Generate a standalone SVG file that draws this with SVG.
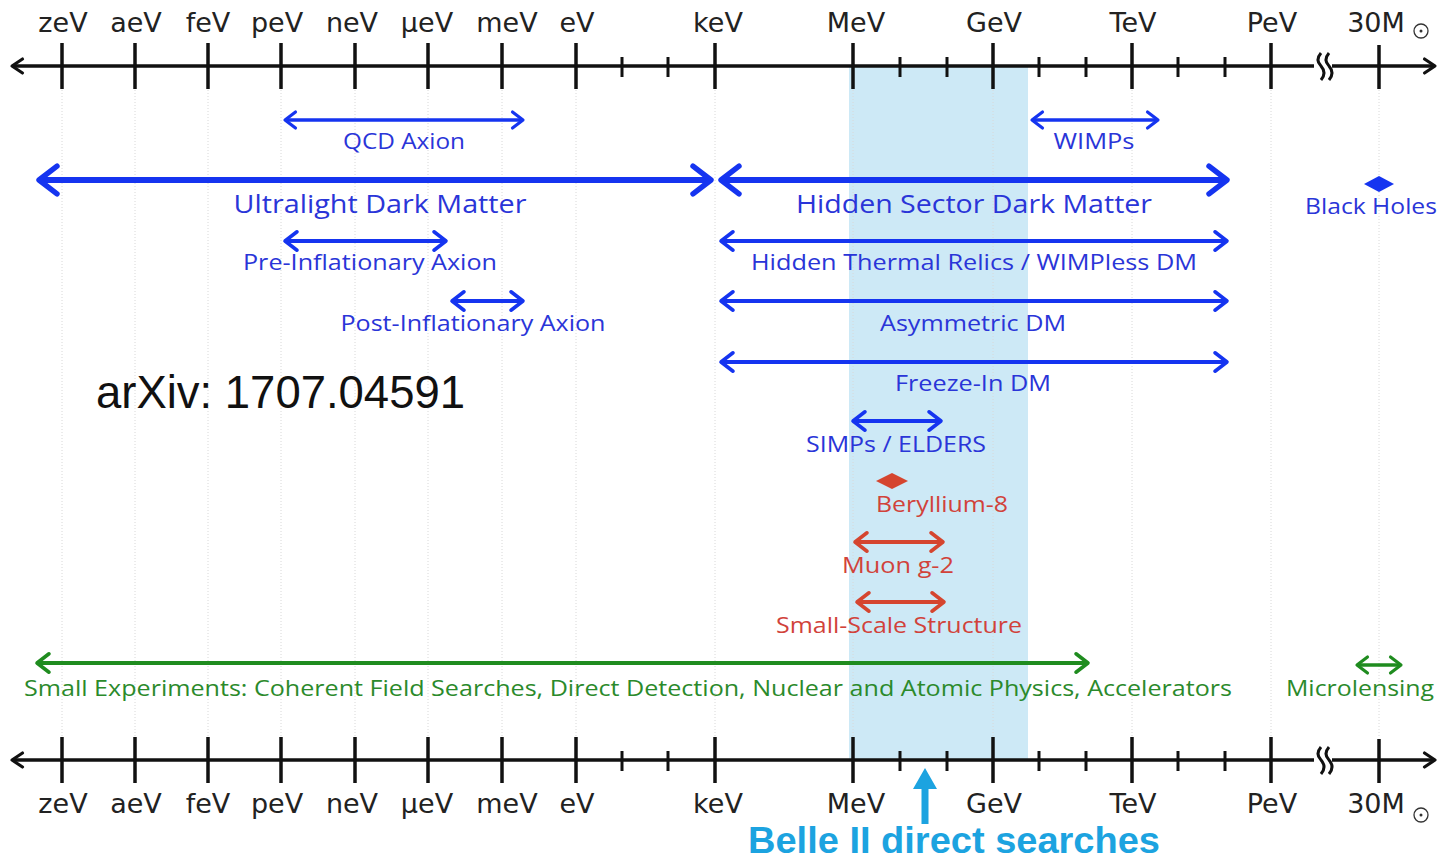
<svg xmlns="http://www.w3.org/2000/svg" width="1439" height="861" viewBox="0 0 1439 861">
<style>
.ax{stroke:#111;stroke-width:3.5;fill:none}
.tk{stroke:#111;stroke-width:3.5}
.tm{stroke:#111;stroke-width:3}
.grid{stroke:#d8d8d8;stroke-width:1;stroke-dasharray:1 2}
.axl{font-family:"DejaVu Sans",sans-serif;font-size:27px;fill:#222;text-anchor:middle}
.lb{font-family:"Open Sans","Noto Sans",sans-serif;fill:#2a35d8;text-anchor:middle}
.lr{font-family:"Open Sans","Noto Sans",sans-serif;fill:#d1423a;text-anchor:middle}
.lg{font-family:"Open Sans","Noto Sans",sans-serif;fill:#2b8a2b}
.ab{stroke:#1534f0;fill:none;marker-start:url(#mb);marker-end:url(#mb)}
.ar{stroke:#d5452f;fill:none;marker-start:url(#mr);marker-end:url(#mr)}
.ag{stroke:#1f8c1f;fill:none;marker-start:url(#mg);marker-end:url(#mg)}
</style>
<defs>
<marker id="mb" viewBox="-4 -3 5 6" refX="0" refY="0" markerWidth="5" markerHeight="6" orient="auto-start-reverse" overflow="visible"><path d="M-3,-2.3 L0,0 L-3,2.3" fill="none" stroke="#1534f0" stroke-width="0.9" stroke-linecap="round" stroke-linejoin="round"/></marker>
<marker id="mr" viewBox="-4 -3 5 6" refX="0" refY="0" markerWidth="5" markerHeight="6" orient="auto-start-reverse" overflow="visible"><path d="M-3,-2.3 L0,0 L-3,2.3" fill="none" stroke="#d5452f" stroke-width="0.9" stroke-linecap="round" stroke-linejoin="round"/></marker>
<marker id="mg" viewBox="-4 -3 5 6" refX="0" refY="0" markerWidth="5" markerHeight="6" orient="auto-start-reverse" overflow="visible"><path d="M-3,-2.3 L0,0 L-3,2.3" fill="none" stroke="#1f8c1f" stroke-width="0.9" stroke-linecap="round" stroke-linejoin="round"/></marker>
<marker id="mk" viewBox="-4 -3 5 6" refX="0" refY="0" markerWidth="5" markerHeight="6" orient="auto-start-reverse" overflow="visible"><path d="M-3,-2 L0,0 L-3,2" fill="none" stroke="#111" stroke-width="0.9" stroke-linecap="round" stroke-linejoin="round"/></marker>
</defs>
<rect width="1439" height="861" fill="#fff"/>
<rect id="belle-band" x="849" y="66" width="179" height="694" fill="#cde9f6"/>
<g id="grid">
<line class="grid" x1="62" y1="90" x2="62" y2="736"/>
<line class="grid" x1="135" y1="90" x2="135" y2="736"/>
<line class="grid" x1="208" y1="90" x2="208" y2="736"/>
<line class="grid" x1="281" y1="90" x2="281" y2="736"/>
<line class="grid" x1="355" y1="90" x2="355" y2="736"/>
<line class="grid" x1="428" y1="90" x2="428" y2="736"/>
<line class="grid" x1="502" y1="90" x2="502" y2="736"/>
<line class="grid" x1="576" y1="90" x2="576" y2="736"/>
<line class="grid" x1="715" y1="90" x2="715" y2="736"/>
<line class="grid" x1="853" y1="90" x2="853" y2="736"/>
<line class="grid" x1="993" y1="90" x2="993" y2="736"/>
<line class="grid" x1="1132" y1="90" x2="1132" y2="736"/>
<line class="grid" x1="1271" y1="90" x2="1271" y2="736"/>
<line class="grid" x1="1379" y1="90" x2="1379" y2="736"/>
</g>
<g id="axis-top">
<line class="ax" x1="12" y1="66" x2="1435" y2="66" marker-start="url(#mk)" marker-end="url(#mk)"/>
<g class="tk">
<line x1="62" y1="43" x2="62" y2="89"/><line x1="135" y1="43" x2="135" y2="89"/><line x1="208" y1="43" x2="208" y2="89"/><line x1="281" y1="43" x2="281" y2="89"/><line x1="355" y1="43" x2="355" y2="89"/><line x1="428" y1="43" x2="428" y2="89"/><line x1="502" y1="43" x2="502" y2="89"/><line x1="576" y1="43" x2="576" y2="89"/><line x1="715" y1="43" x2="715" y2="89"/><line x1="853" y1="43" x2="853" y2="89"/><line x1="993" y1="43" x2="993" y2="89"/><line x1="1132" y1="43" x2="1132" y2="89"/><line x1="1271" y1="43" x2="1271" y2="89"/><line x1="1379" y1="45" x2="1379" y2="89"/>
</g>
<g class="tm">
<line x1="622" y1="57" x2="622" y2="77"/><line x1="668" y1="57" x2="668" y2="77"/><line x1="900" y1="57" x2="900" y2="77"/><line x1="947" y1="57" x2="947" y2="77"/><line x1="1039" y1="57" x2="1039" y2="77"/><line x1="1086" y1="57" x2="1086" y2="77"/><line x1="1178" y1="57" x2="1178" y2="77"/><line x1="1225" y1="57" x2="1225" y2="77"/>
</g>
<rect x="1314" y="58" width="18" height="16" fill="#fff"/>
<path d="M1321,53 q-6,7 0,13 q6,7 0,14 M1329,53 q-6,7 0,13 q6,7 0,14" stroke="#111" stroke-width="3" fill="none"/>
<text class="axl" x="63" y="32">zeV</text>
<text class="axl" x="136" y="32">aeV</text>
<text class="axl" x="208" y="32">feV</text>
<text class="axl" x="277" y="32">peV</text>
<text class="axl" x="352" y="32">neV</text>
<text class="axl" x="427" y="32">μeV</text>
<text class="axl" x="507" y="32">meV</text>
<text class="axl" x="577" y="32">eV</text>
<text class="axl" x="718" y="32">keV</text>
<text class="axl" x="856" y="32">MeV</text>
<text class="axl" x="994" y="32">GeV</text>
<text class="axl" x="1133" y="32">TeV</text>
<text class="axl" x="1272" y="32">PeV</text>
<text class="axl" x="1376" y="32">30M</text>
<circle cx="1421" cy="31" r="7" fill="none" stroke="#333" stroke-width="1.3"/><circle cx="1421" cy="31" r="1.5" fill="#333"/>
</g>
<g id="axis-bottom">
<line class="ax" x1="12" y1="760" x2="1435" y2="760" marker-start="url(#mk)" marker-end="url(#mk)"/>
<g class="tk">
<line x1="62" y1="737" x2="62" y2="783"/><line x1="135" y1="737" x2="135" y2="783"/><line x1="208" y1="737" x2="208" y2="783"/><line x1="281" y1="737" x2="281" y2="783"/><line x1="355" y1="737" x2="355" y2="783"/><line x1="428" y1="737" x2="428" y2="783"/><line x1="502" y1="737" x2="502" y2="783"/><line x1="576" y1="737" x2="576" y2="783"/><line x1="715" y1="737" x2="715" y2="783"/><line x1="853" y1="737" x2="853" y2="783"/><line x1="993" y1="737" x2="993" y2="783"/><line x1="1132" y1="737" x2="1132" y2="783"/><line x1="1271" y1="737" x2="1271" y2="783"/><line x1="1379" y1="739" x2="1379" y2="783"/>
</g>
<g class="tm">
<line x1="622" y1="751" x2="622" y2="771"/><line x1="668" y1="751" x2="668" y2="771"/><line x1="900" y1="751" x2="900" y2="771"/><line x1="947" y1="751" x2="947" y2="771"/><line x1="1039" y1="751" x2="1039" y2="771"/><line x1="1086" y1="751" x2="1086" y2="771"/><line x1="1178" y1="751" x2="1178" y2="771"/><line x1="1225" y1="751" x2="1225" y2="771"/>
</g>
<rect x="1314" y="752" width="18" height="16" fill="#fff"/>
<path d="M1321,747 q-6,7 0,13 q6,7 0,14 M1329,747 q-6,7 0,13 q6,7 0,14" stroke="#111" stroke-width="3" fill="none"/>
<text class="axl" x="63" y="813">zeV</text>
<text class="axl" x="136" y="813">aeV</text>
<text class="axl" x="208" y="813">feV</text>
<text class="axl" x="277" y="813">peV</text>
<text class="axl" x="352" y="813">neV</text>
<text class="axl" x="427" y="813">μeV</text>
<text class="axl" x="507" y="813">meV</text>
<text class="axl" x="577" y="813">eV</text>
<text class="axl" x="718" y="813">keV</text>
<text class="axl" x="856" y="813">MeV</text>
<text class="axl" x="994" y="813">GeV</text>
<text class="axl" x="1133" y="813">TeV</text>
<text class="axl" x="1272" y="813">PeV</text>
<text class="axl" x="1376" y="813">30M</text>
<circle cx="1421" cy="815" r="7" fill="none" stroke="#333" stroke-width="1.3"/><circle cx="1421" cy="815" r="1.5" fill="#333"/>
</g>
<g id="connectors">
<line class="ab" x1="285" y1="120" x2="523" y2="120" stroke-width="3.5"/>
<line class="ab" x1="1032" y1="120" x2="1158" y2="120" stroke-width="3.5"/>
<line class="ab" x1="39" y1="180" x2="711" y2="180" stroke-width="6"/>
<line class="ab" x1="721" y1="180" x2="1227" y2="180" stroke-width="6"/>
<line class="ab" x1="285" y1="241" x2="446" y2="241" stroke-width="4"/>
<line class="ab" x1="721" y1="241" x2="1227" y2="241" stroke-width="4"/>
<line class="ab" x1="452" y1="301" x2="523" y2="301" stroke-width="4"/>
<line class="ab" x1="721" y1="301" x2="1227" y2="301" stroke-width="4"/>
<line class="ab" x1="721" y1="362" x2="1227" y2="362" stroke-width="4"/>
<line class="ab" x1="853" y1="421" x2="941" y2="421" stroke-width="4"/>
<line class="ar" x1="855" y1="542" x2="943" y2="542" stroke-width="4"/>
<line class="ar" x1="857" y1="602" x2="944" y2="602" stroke-width="4"/>
<line class="ag" x1="37" y1="663" x2="1088" y2="663" stroke-width="4"/>
<line class="ag" x1="1357" y1="665" x2="1401" y2="665" stroke-width="3.5"/>
</g>
<g id="qcd-axion"><text class="lb" x="404" y="149" font-size="21" textLength="122" lengthAdjust="spacingAndGlyphs">QCD Axion</text></g>
<g id="wimps"><text class="lb" x="1094" y="149" font-size="21" textLength="81" lengthAdjust="spacingAndGlyphs">WIMPs</text></g>
<g id="ultralight"><text class="lb" x="380" y="213" font-size="25" textLength="293" lengthAdjust="spacingAndGlyphs">Ultralight Dark Matter</text></g>
<g id="hidden-sector"><text class="lb" x="974" y="213" font-size="25" textLength="356" lengthAdjust="spacingAndGlyphs">Hidden Sector Dark Matter</text></g>
<g id="black-holes"><polygon points="1364,184 1379,176 1394,184 1379,192" fill="#1534f0"/><text class="lb" x="1371" y="214" font-size="21" textLength="132" lengthAdjust="spacingAndGlyphs">Black Holes</text></g>
<g id="pre-inflationary"><text class="lb" x="370" y="270" font-size="21" textLength="254" lengthAdjust="spacingAndGlyphs">Pre-Inflationary Axion</text></g>
<g id="hidden-thermal"><text class="lb" x="974" y="270" font-size="21" textLength="446" lengthAdjust="spacingAndGlyphs">Hidden Thermal Relics / WIMPless DM</text></g>
<g id="post-inflationary"><text class="lb" x="473" y="331" font-size="21" textLength="265" lengthAdjust="spacingAndGlyphs">Post-Inflationary Axion</text></g>
<g id="asymmetric"><text class="lb" x="973" y="331" font-size="21" textLength="186" lengthAdjust="spacingAndGlyphs">Asymmetric DM</text></g>
<g id="freeze-in"><text class="lb" x="973" y="391" font-size="21" textLength="156" lengthAdjust="spacingAndGlyphs">Freeze-In DM</text></g>
<g id="simps"><text class="lb" x="896" y="452" font-size="21" textLength="180" lengthAdjust="spacingAndGlyphs">SIMPs / ELDERS</text></g>
<g id="beryllium"><polygon points="876,481 892,473 908,481 892,489" fill="#d5452f"/><text class="lr" x="942" y="512" font-size="21" textLength="132" lengthAdjust="spacingAndGlyphs">Beryllium-8</text></g>
<g id="muon"><text class="lr" x="898" y="573" font-size="21" textLength="112" lengthAdjust="spacingAndGlyphs">Muon g-2</text></g>
<g id="small-scale"><text class="lr" x="899" y="633" font-size="21" textLength="246" lengthAdjust="spacingAndGlyphs">Small-Scale Structure</text></g>
<g id="small-experiments"><text class="lg" x="24" y="696" font-size="21" textLength="1208" lengthAdjust="spacingAndGlyphs">Small Experiments: Coherent Field Searches, Direct Detection, Nuclear and Atomic Physics, Accelerators</text></g>
<g id="microlensing"><text class="lg" x="1286" y="696" font-size="21" textLength="148" lengthAdjust="spacingAndGlyphs">Microlensing</text></g>
<g id="arxiv"><text x="96" y="408" font-family="'Liberation Sans',Arial,sans-serif" font-size="46" fill="#111" textLength="369" lengthAdjust="spacingAndGlyphs">arXiv: 1707.04591</text></g>
<g id="belle-ii">
<path d="M921.5,824 L921.5,789 L913,789 L925,768 L937,789 L928.5,789 L928.5,824 Z" fill="#1ca3e0"/>
<text x="748" y="853" font-family="'Liberation Sans',Arial,sans-serif" font-weight="bold" font-size="37" fill="#1ca3e0" textLength="412" lengthAdjust="spacingAndGlyphs">Belle II direct searches</text>
</g>
</svg>
